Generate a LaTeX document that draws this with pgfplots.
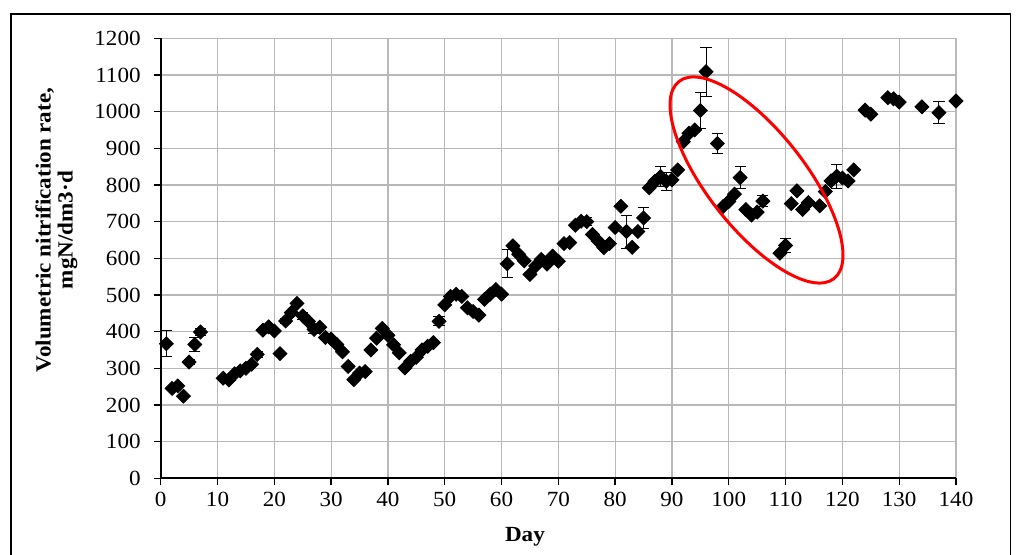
\documentclass[border=0pt]{standalone}
\usepackage{pgfplots}
\pgfplotsset{compat=1.18}
\usepackage{pgfplotstable}
\usepackage{fontspec}
\setmainfont{Liberation Serif}[FakeStretch=1.07]

\pgfplotstableread{
x y
1 367
2 245
3 252
4 224
5 317
6 365
7 399
11 273
12 268
13 285
14 293
15 300
16 311
17 338
18 404
19 413
20 402
21 340
22 429
23 452
24 477
25 443
26 428
27 406
28 412
29 384
30 380
31 365
32 345
33 305
34 269
35 287
36 291
37 350
38 382
39 409
40 390
41 364
42 342
43 301
44 319
45 330
46 350
47 360
48 370
49 428
50 473
51 496
52 502
53 496
54 465
55 455
56 445
57 488
58 502
59 515
60 502
61 585
62 634
63 611
64 593
65 556
66 579
67 597
68 584
69 606
70 592
71 640
72 643
73 690
74 701
75 700
76 665
77 647
78 629
79 640
80 684
81 742
82 673
83 630
84 673
85 710
86 792
87 810
88 823
89 810
90 814
91 841
92 918
93 941
94 950
95 1003
96 1109
98 913
99 741
100 755
101 775
102 820
103 733
104 718
105 726
106 756
109 614
110 635
111 749
112 784
113 733
114 752
116 743
117 782
118 811
119 824
120 819
121 811
122 841
124 1004
125 993
128 1038
129 1035
130 1026
134 1013
137 997
140 1029
}\rates

\pgfplotstableread{
x y e
1 367 35
5 317 8
6 365 18
7 399 10
17 338 8
22 429 8
25 443 10
27 406 12
49 428 12
61 585 38
75 700 10
82 673 45
85 710 29
88 823 27
89 810 25
95 1003 50
96 1109 67
98 913 27
102 820 30
106 756 15
110 635 18
119 824 33
137 997 30
}\errs

\begin{document}
\begin{tikzpicture}[x=1pt,y=1pt]
\path[use as bounding box] (0,0) rectangle (508.5,277.5);
\draw[black, line width=0.7pt] (5.5,-10) -- (5.5,270.5) -- (505.25,270.5) -- (505.25,-10);
\begin{axis}[
  scale only axis, width=397.65pt, height=220pt,
  at={(80.35pt,38.35pt)}, anchor=south west,
  xmin=0, xmax=140, ymin=0, ymax=1200,
  xtick distance=10, ytick distance=100,
  grid=major,
  major grid style={color=black!28, line width=0.6pt},
  axis x line*=bottom, axis y line*=left,
  axis line style={black, line width=0.8pt},
  tick align=outside, major tick length=3.5pt,
  tick style={black, line width=0.7pt},
  tick label style={font=\fontsize{10.8}{12}\selectfont},
  yticklabel style={xshift=-3pt},
  /pgf/number format/assume math mode=true,
  /pgf/number format/1000 sep={},
  xlabel={Day},
  ylabel={Volumetric nitrification rate,\\mgN/dm3·d},
  every axis x label/.style={at={(axis description cs:0.458,-0.133)}, anchor=center, font=\bfseries\fontsize{10.8}{12}\selectfont},
  every axis y label/.style={at={(axis description cs:-0.131,0.564)}, rotate=90, anchor=center, align=center, font=\bfseries\fontsize{10.8}{11}\selectfont},
]
\addplot[only marks, mark=none, black,
  error bars/.cd, y dir=both, y explicit,
  error bar style={black, line width=0.5pt},
  error mark options={rotate=90, mark size=2.8pt, black, line width=0.5pt}]
  table[x=x, y=y, y error=e] {\errs};
\addplot[only marks, mark=square*, mark size=2.47pt, mark options={rotate=45, black, fill=black}]
  table[x=x, y=y] {\rates};
\end{axis}
\draw[red, line width=1.5pt, rotate around={-51.8:(378.25,187.5)}] (378.25,187.5) ellipse (62.7pt and 24.35pt);
\end{tikzpicture}
\end{document}
